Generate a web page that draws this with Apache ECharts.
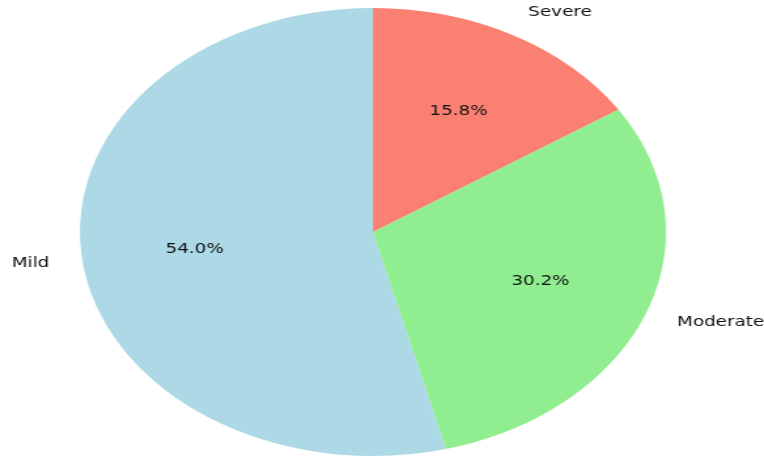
<!DOCTYPE html>
<html>
<head>
<meta charset="utf-8">
<script src="https://cdn.jsdelivr.net/npm/echarts@6/dist/echarts.min.js"></script>
<style>
html, body { margin: 0; padding: 0; background: #fff; overflow: hidden; }
#chart { width: 584px; height: 458px; transform: scaleX(1.3082); transform-origin: 0 0; }
</style>
</head>
<body>
<div id="chart"></div>
<script>
const categories = ['Mild', 'Moderate', 'Severe'];
const values = [54.0, 30.2, 15.8];
const colors = ['#ADD8E6', '#90EE90', '#FA8072'];

const R = 224;
const center = [285.1, 232];
const font = { fontFamily: 'DejaVu Sans', fontSize: 14, color: '#111' };

const total = values.reduce((a, b) => a + b, 0);
// mid-angle of each slice (counterclockwise from 90deg), used for label alignment like matplotlib
const midCos = [];
let acc = 90;
values.forEach(v => {
  const span = v / total * 360;
  const mid = (acc + span / 2) * Math.PI / 180;
  midCos.push(Math.cos(mid));
  acc += span;
});

const mk = (styleFn) => categories.map((c, i) => ({ name: c, value: values[i], itemStyle: styleFn(i) }));

const chart = echarts.init(document.getElementById('chart'), null, { renderer: 'canvas' });
chart.setOption({
  animation: false,
  backgroundColor: '#fff',
  series: [
    {
      type: 'pie',
      center: center,
      radius: [0, R],
      startAngle: 90,
      clockwise: false,
      silent: true,
      label: { show: false },
      labelLine: { show: false },
      itemStyle: { borderWidth: 0 },
      data: mk(i => ({ color: colors[i] }))
    },
    {
      type: 'pie',
      center: center,
      radius: [R * 0.2, R],
      startAngle: 90,
      clockwise: false,
      silent: true,
      itemStyle: { color: 'rgba(0,0,0,0)', borderWidth: 0 },
      label: Object.assign({ show: true, position: 'inside', formatter: p => p.value.toFixed(1) + '%' }, font),
      labelLine: { show: false },
      data: mk(i => ({ color: 'rgba(0,0,0,0)' }))
    },
    {
      type: 'pie',
      center: center,
      radius: [R, R * 1.2],
      startAngle: 90,
      clockwise: false,
      silent: true,
      itemStyle: { color: 'rgba(0,0,0,0)', borderWidth: 0 },
      label: Object.assign({ show: true, position: 'inside', formatter: p => p.name }, font),
      labelLine: { show: false },
      labelLayout: p => ({ align: midCos[p.dataIndex] < 0 ? 'right' : 'left', verticalAlign: 'middle' }),
      data: mk(i => ({ color: 'rgba(0,0,0,0)' }))
    }
  ]
});
</script>
</body>
</html>
